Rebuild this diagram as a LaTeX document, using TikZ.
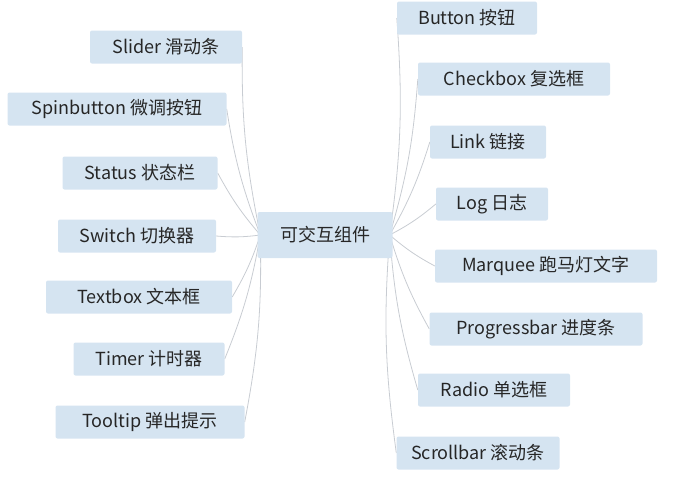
\documentclass[tikz,border=0pt]{standalone}
\usepackage{fontspec}
\usetikzlibrary{backgrounds}
\setmainfont{Noto Sans CJK SC}
\definecolor{boxfill}{HTML}{D5E4F1}
\definecolor{linkc}{HTML}{C8CCD2}
\begin{document}
\begin{tikzpicture}[x=1pt,y=-1pt,
  item/.style={fill=boxfill,rounded corners=2pt,minimum height=33pt,inner xsep=4pt,font=\fontsize{18}{21}\selectfont,text=black!85},
  link/.style={draw=linkc,line width=0.8pt}]
\useasboundingbox (0,0) rectangle (679,480);
\node[item,minimum width=135pt,minimum height=46pt] (c) at (325,235) {可交互组件};
\node[item,minimum width=152pt] (l1) at (166,47) {Slider 滑动条};
\node[item,minimum width=219pt] (l2) at (117,109) {Spinbutton 微调按钮};
\node[item,minimum width=155pt] (l3) at (140,173) {Status 状态栏};
\node[item,minimum width=158pt] (l4) at (137,236) {Switch 切换器};
\node[item,minimum width=186pt] (l5) at (139,297) {Textbox 文本框};
\node[item,minimum width=151pt] (l6) at (149,359) {Timer 计时器};
\node[item,minimum width=189pt] (l7) at (150,422) {Tooltip 弹出提示};
\node[item,minimum width=140pt] (r1) at (467,18) {Button 按钮};
\node[item,minimum width=192pt] (r2) at (514,79) {Checkbox 复选框};
\node[item,minimum width=116pt] (r3) at (488,142) {Link 链接};
\node[item,minimum width=112pt] (r4) at (492,204) {Log 日志};
\node[item,minimum width=222pt] (r5) at (546,266) {Marquee 跑马灯文字};
\node[item,minimum width=213pt] (r6) at (536,329) {Progressbar 进度条};
\node[item,minimum width=152pt] (r7) at (494,390) {Radio 单选框};
\node[item,minimum width=163pt] (r8) at (478,453) {Scrollbar 滚动条};
\coordinate (cl) at ([xshift=3pt]c.west);
\coordinate (cr) at ([xshift=-3pt]c.east);
\begin{pgfonlayer}{background}
\foreach \n in {l1,l2,l3,l4,l5,l6,l7}
  \draw[link] (cl) to[bend left=6] (\n.east);
\foreach \n in {r1,r2,r3,r4,r5,r6,r7,r8}
  \draw[link] (cr) to[bend right=6] (\n.west);
\end{pgfonlayer}
\end{tikzpicture}
\end{document}
